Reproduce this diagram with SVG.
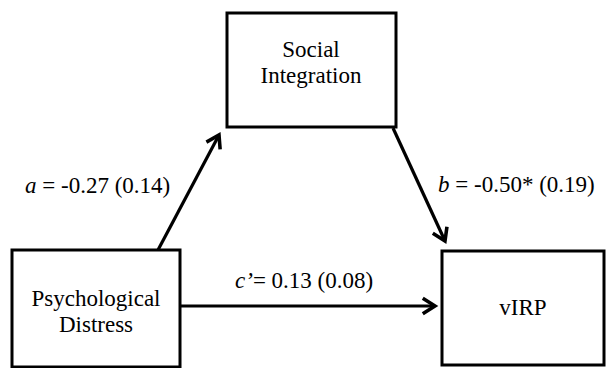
<svg xmlns="http://www.w3.org/2000/svg" width="608" height="368" viewBox="0 0 608 368">
<style>
.box{fill:#fff;stroke:#000;stroke-width:3}
text{font-family:'Liberation Serif','DejaVu Serif',serif;font-size:23px;fill:#000}
.t{text-anchor:middle}
.edge{stroke:#000;stroke-width:3.2;fill:none}
</style>
<defs>
<marker id="ah" markerUnits="userSpaceOnUse" markerWidth="20" markerHeight="20" refX="12" refY="0" viewBox="-2 -9 16 18" orient="auto" overflow="visible">
<path d="M1,-7 L12,0 L1,7" fill="none" stroke="#000" stroke-width="3.2" stroke-linejoin="miter"/>
</marker>
</defs>
<rect width="608" height="368" fill="#fff"/>
<g id="connectors">
<line class="edge" x1="158" y1="250" x2="219" y2="135" marker-end="url(#ah)"/>
<line class="edge" x1="393" y1="128" x2="445" y2="241" marker-end="url(#ah)"/>
<line class="edge" x1="180" y1="306" x2="435" y2="306" marker-end="url(#ah)"/>
</g>
<g id="social-integration">
<rect class="box" x="227" y="13" width="169" height="114"/>
<text class="t" x="311" y="57" font-family="Liberation Serif">Social</text>
<text class="t" x="311" y="83" font-family="Liberation Serif">Integration</text>
</g>
<g id="psychological-distress">
<rect class="box" x="12" y="250" width="168" height="117"/>
<text class="t" x="96" y="306">Psychological</text>
<text class="t" x="96" y="332">Distress</text>
</g>
<g id="virp">
<rect class="box" x="442" y="251" width="162" height="114"/>
<text class="t" x="523" y="315">vIRP</text>
</g>
<g id="labels">
<text x="25" y="193"><tspan font-style="italic">a</tspan> = -0.27 (0.14)</text>
<text x="438" y="192"><tspan font-style="italic">b</tspan> = -0.50* (0.19)</text>
<text x="235" y="288"><tspan font-style="italic">c’</tspan>= 0.13 (0.08)</text>
</g>
</svg>
